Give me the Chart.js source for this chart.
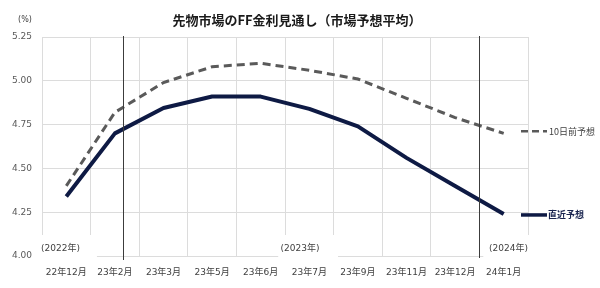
<!DOCTYPE html>
<html>
<head>
<meta charset="utf-8">
<script src="https://cdn.jsdelivr.net/npm/chart.js@4/dist/chart.umd.min.js"></script>
<style>
  html, body { margin: 0; padding: 0; background: #fff; }
  #wrap { position: relative; width: 600px; height: 288px; }
</style>
</head>
<body>
<div id="wrap"><canvas id="c" width="600" height="288"></canvas></div>
<script>
const categories = ['22年12月', '23年2月', '23年3月', '23年5月', '23年6月', '23年7月', '23年9月', '23年11月', '23年12月', '24年1月'];
const latest = [4.34, 4.70, 4.845, 4.91, 4.91, 4.84, 4.74, 4.56, 4.40, 4.24];
const tenDaysAgo = [4.40, 4.82, 4.99, 5.08, 5.10, 5.06, 5.01, 4.90, 4.79, 4.70];
const seriesNames = ['直近予想', '10日前予想'];
const yTicks = [4.00, 4.25, 4.50, 4.75, 5.00, 5.25];
const markerPositions = [1.17, 8.5];
const yearLabels = [
  { text: '(2022年)', at: -0.12, box: [-0.53, 0.63] },
  { text: '(2023年)', at: 4.81, box: [4.36, 5.59] },
  { text: '(2024年)', at: 9.1, box: [8.58, 9.8] }
];
const title = '先物市場のFF金利見通し（市場予想平均）';
const unitLabel = '(%)';

const FONT = '"DejaVu Sans", "Noto Sans CJK JP", sans-serif';
const JFONT = '"Noto Sans CJK JP", "DejaVu Sans", sans-serif';
const NAVY = '#0e1a44';
const GRAY = '#5a5a5a';
const GRID = '#dcdcdc';

const overlay = {
  id: 'overlay',
  afterDraw(chart) {
    const ctx = chart.ctx;
    const x = chart.scales.x, y = chart.scales.y;
    const area = chart.chartArea;
    ctx.save();
    // year label boxes
    yearLabels.forEach(l => {
      const x0 = x.getPixelForValue(l.box[0]);
      const x1 = x.getPixelForValue(l.box[1]);
      ctx.fillStyle = '#fff';
      ctx.fillRect(x0, area.bottom - 21, x1 - x0, 27);
      ctx.fillStyle = '#404040';
      ctx.font = '9px ' + FONT;
      ctx.textAlign = 'center';
      ctx.textBaseline = 'middle';
      ctx.fillText(l.text, x.getPixelForValue(l.at), area.bottom - 7);
    });
    // dark markers
    ctx.strokeStyle = '#3c3c3c';
    ctx.lineWidth = 1;
    markerPositions.forEach((m, i) => {
      const px = Math.round(x.getPixelForValue(m)) + 0.5;
      ctx.beginPath();
      ctx.moveTo(px, area.top - 1);
      ctx.lineTo(px, area.bottom + (i === 0 ? 4 : 2));
      ctx.stroke();
    });
    // title
    ctx.fillStyle = '#1a1a1a';
    ctx.font = 'bold 13px ' + JFONT;
    ctx.textAlign = 'center';
    ctx.textBaseline = 'middle';
    ctx.fillText(title, 297, 20);
    ctx.fillStyle = '#404040';
    ctx.font = '8px ' + FONT;
    ctx.fillText(unitLabel, 25, 20);
    // right-side series labels
    const lx0 = area.right - 7, lx1 = area.right + 19;
    const y10 = y.getPixelForValue(tenDaysAgo[tenDaysAgo.length - 1]) - 2;
    ctx.strokeStyle = GRAY;
    ctx.lineWidth = 2.5;
    ctx.setLineDash([7, 4]);
    ctx.beginPath(); ctx.moveTo(lx0, y10); ctx.lineTo(lx1, y10); ctx.stroke();
    ctx.setLineDash([]);
    ctx.fillStyle = '#404040';
    ctx.font = '9px ' + JFONT;
    ctx.textAlign = 'left';
    ctx.fillText(seriesNames[1], lx1 + 2, y10);
    const yl = y.getPixelForValue(latest[latest.length - 1]) + 1;
    ctx.strokeStyle = NAVY;
    ctx.lineWidth = 3.5;
    ctx.beginPath(); ctx.moveTo(lx0, yl); ctx.lineTo(lx1, yl); ctx.stroke();
    ctx.fillStyle = '#1a2550';
    ctx.font = 'bold 9px ' + JFONT;
    ctx.fillText(seriesNames[0], lx1 + 1, yl);
    ctx.restore();
  }
};

new Chart(document.getElementById('c'), {
  type: 'line',
  data: {
    labels: categories,
    datasets: [
      {
        label: seriesNames[1],
        data: tenDaysAgo,
        borderColor: GRAY,
        borderWidth: 3,
        borderDash: [8, 5],
        pointRadius: 0,
        tension: 0,
        fill: false
      },
      {
        label: seriesNames[0],
        data: latest,
        borderColor: NAVY,
        borderWidth: 4,
        pointRadius: 0,
        tension: 0,
        borderJoinStyle: 'round',
        fill: false
      }
    ]
  },
  options: {
    responsive: false,
    animation: false,
    devicePixelRatio: 1,
    layout: { padding: { top: 37, right: 72, left: 0, bottom: 0 } },
    plugins: { legend: { display: false }, title: { display: false }, tooltip: { enabled: false } },
    scales: {
      x: {
        offset: true,
        grid: { offset: true, color: GRID, drawTicks: false },
        border: { color: GRID },
        ticks: { color: '#404040', font: { family: FONT, size: 9 }, padding: 11, maxRotation: 0, autoSkip: false },
        afterFit(s) { s.height = 32; }
      },
      y: {
        min: 4.0,
        max: 5.25,
        grid: { color: GRID, drawTicks: false },
        border: { color: GRID },
        afterBuildTicks(s) { s.ticks = yTicks.map(v => ({ value: v })); },
        ticks: {
          color: '#595959',
          font: { family: FONT, size: 9 },
          padding: 10,
          callback: v => Number(v).toFixed(2)
        },
        afterFit(s) { s.width = 42; }
      }
    }
  },
  plugins: [overlay]
});
</script>
</body>
</html>
